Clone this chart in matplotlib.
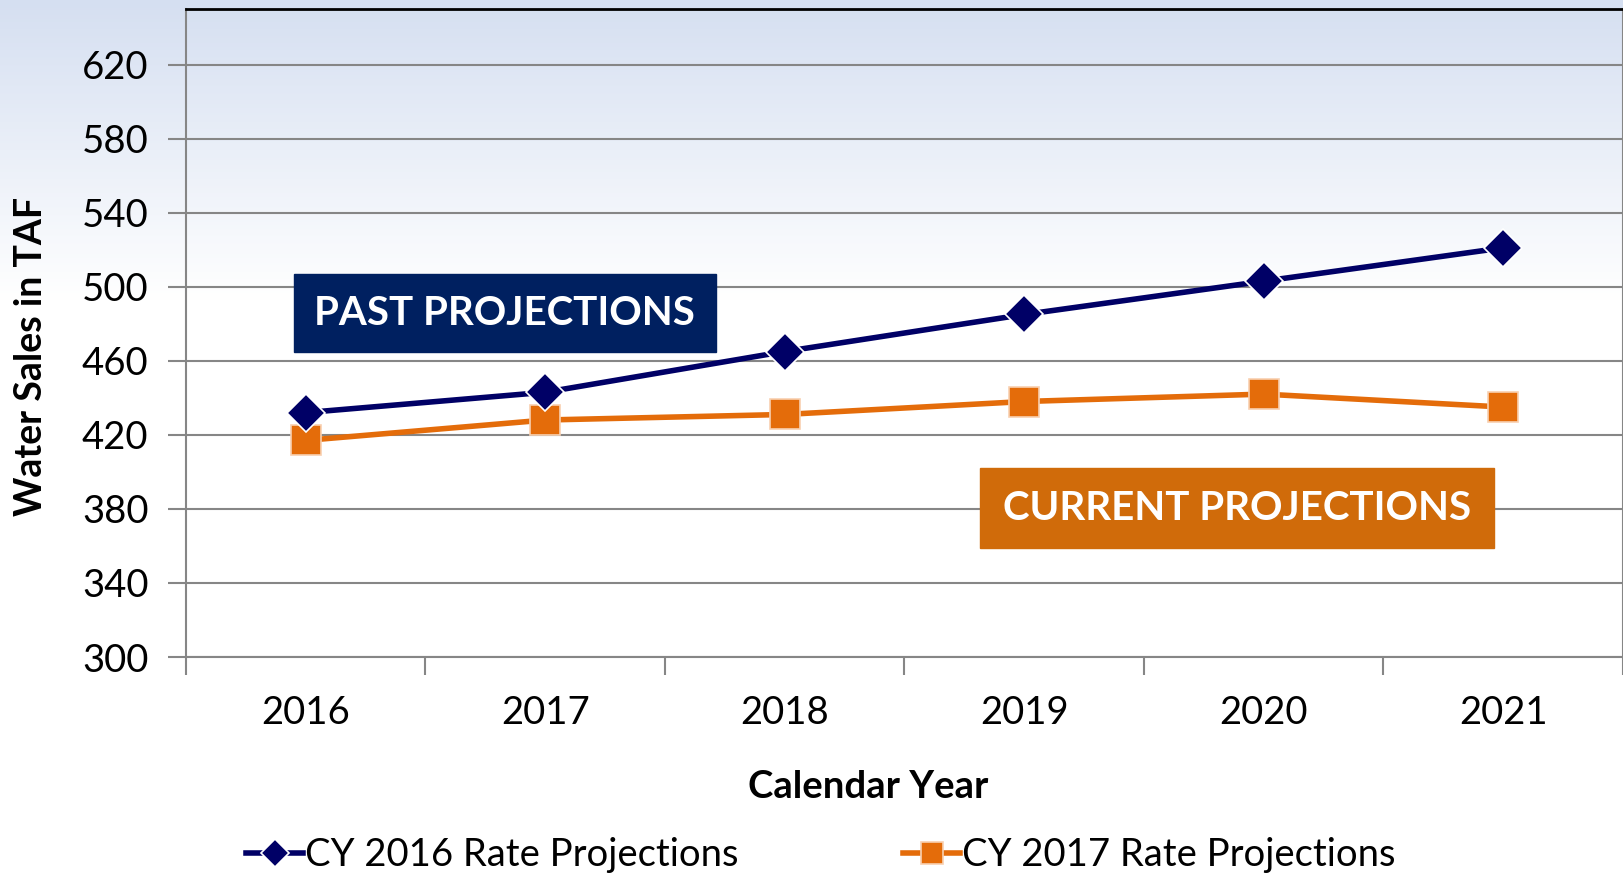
import numpy as np
import matplotlib.pyplot as plt
from matplotlib.patches import Rectangle

# --- Data
years = ["2016", "2017", "2018", "2019", "2020", "2021"]
cy2016 = [432, 443, 465, 485, 503, 521]
cy2017 = [417, 428, 431, 438, 442, 435]
y_ticks = [300, 340, 380, 420, 460, 500, 540, 580, 620]

navy = "#000066"
orange = "#E46C0A"

plt.rcParams['font.family'] = ['Lato', 'DejaVu Sans']

fig = plt.figure(figsize=(16.24, 8.77), dpi=100)

# --- Background gradient (light blue on top -> white)
bg = fig.add_axes([0, 0, 1, 1], zorder=-10)
h = 877
top = np.array([213, 223, 241]) / 255.0
t = np.clip(np.arange(h) / 300.0, 0, 1)[:, None]
grad = top * (1 - t) + np.ones(3) * t
bg.imshow(grad[:, None, :], aspect='auto', extent=[0, 1, 0, 1])
bg.axis('off')

ax = fig.add_axes([186 / 1624, 1 - 657 / 877, 1437 / 1624, 648 / 877])
ax.set_facecolor('none')

x = np.arange(len(years))
ax.plot(x, cy2016, color=navy, lw=4, marker='D', ms=19,
        mec='white', mew=1.2, label="CY 2016 Rate Projections", zorder=4)
ax.plot(x, cy2017, color=orange, lw=4, marker='s', ms=22,
        mec='#f8d0b0', mew=1.2, label="CY 2017 Rate Projections", zorder=3)

ax.set_xlim(-0.5, len(years) - 0.5)
ax.set_ylim(300, 650)
ax.set_yticks(y_ticks)
ax.set_xticks(x)
ax.set_xticklabels(years)
ax.set_xticks(np.arange(len(years) + 1) - 0.5, minor=True)
ax.tick_params(axis='x', which='major', length=0, pad=27, labelsize=27.5)
ax.tick_params(axis='x', which='minor', length=13, width=1.5, color='#868686')
ax.tick_params(axis='y', length=13, width=1.5, color='#868686', pad=14, labelsize=27.5)
ax.yaxis.grid(True, color='#868686', lw=1.5)
ax.set_axisbelow(True)
for s in ['left', 'right', 'bottom']:
    ax.spines[s].set_color('#868686')
    ax.spines[s].set_linewidth(1.5)
ax.spines['top'].set_color('black')
ax.spines['top'].set_linewidth(2)

# --- Annotation boxes
ax.add_patch(Rectangle((-0.05, 464.9), 1.7625, 42.1, color='#002060', zorder=5))
ax.text(0.83, 485.5, "PAST PROJECTIONS", color='white', fontsize=29,
        fontweight='bold', ha='center', va='center', zorder=6)
ax.add_patch(Rectangle((2.817, 358.9), 2.1455, 43.3, color='#D06B0A', zorder=5))
ax.text(3.89, 380, "CURRENT PROJECTIONS", color='white', fontsize=29,
        fontweight='bold', ha='center', va='center', zorder=6)

# --- Axis labels
fig.text(31 / 1624, 1 - 356 / 877, "Water Sales in TAF", rotation=90,
         fontsize=27, fontweight='bold', ha='center', va='center')
fig.text(868 / 1624, 1 - 787 / 877, "Calendar Year",
         fontsize=27.5, fontweight='bold', ha='center', va='center')

# --- Legend
fig.legend(loc='center', bbox_to_anchor=(821 / 1624, 1 - 855 / 877), ncol=2,
           frameon=False, fontsize=27.5, handlelength=1.5, handletextpad=0.05,
           columnspacing=4.3, markerscale=0.75)

fig.savefig("out.png", dpi=100)
